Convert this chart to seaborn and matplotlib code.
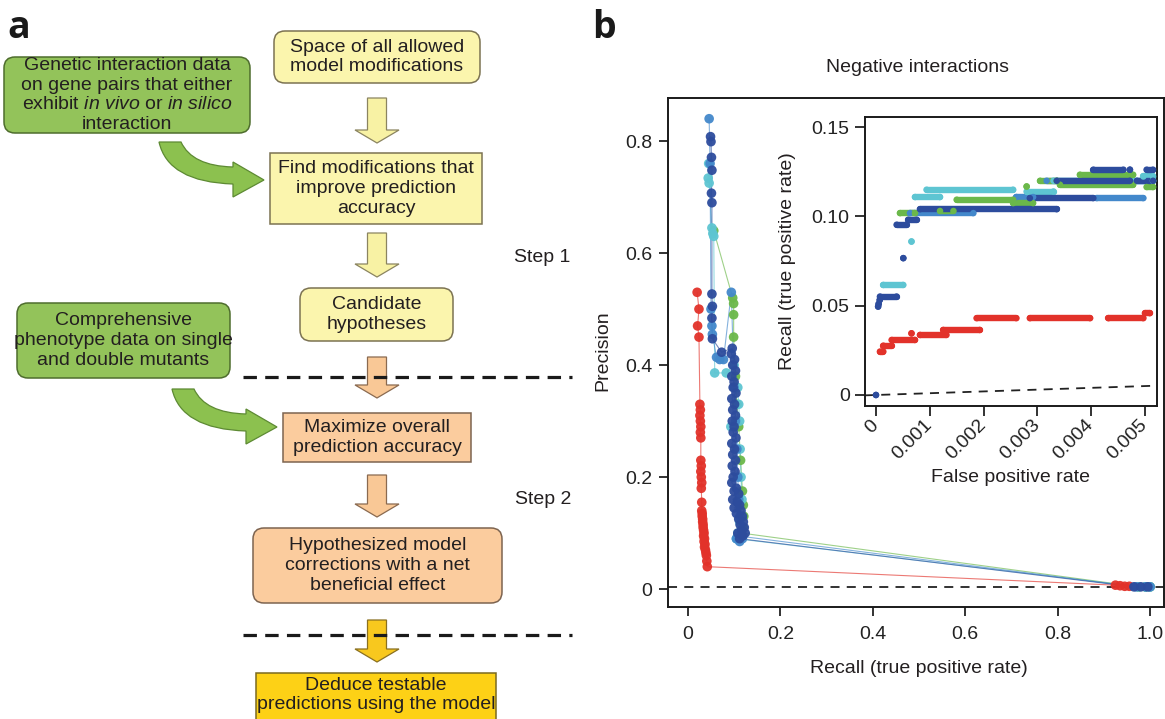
import matplotlib
matplotlib.use("Agg")
import numpy as np
import pandas as pd
import seaborn as sns
import matplotlib.pyplot as plt
from matplotlib.patches import FancyBboxPatch, Polygon, PathPatch
from matplotlib.path import Path

# ---------------- data: panel b, main precision/recall curves ----------------
red_recall = [0.020, 0.024, 0.021, 0.024,
              0.026, 0.027, 0.026, 0.027, 0.028, 0.027, 0.028,
              0.028, 0.029, 0.028, 0.029, 0.030, 0.029,
              0.030, 0.030, 0.031, 0.031, 0.032, 0.032, 0.033, 0.033, 0.034, 0.035,
              0.034, 0.036, 0.035, 0.037, 0.036, 0.038, 0.039, 0.040, 0.041, 0.042,
              0.925, 0.935, 0.945, 0.955]
red_prec = [0.53, 0.50, 0.47, 0.45,
            0.33, 0.32, 0.31, 0.30, 0.29, 0.28, 0.27,
            0.23, 0.22, 0.21, 0.20, 0.19, 0.18,
            0.155, 0.14, 0.135, 0.13, 0.125, 0.12, 0.115, 0.11, 0.105, 0.10,
            0.095, 0.09, 0.085, 0.08, 0.075, 0.07, 0.065, 0.06, 0.05, 0.04,
            0.007, 0.006, 0.005, 0.005]

green_recall = [0.056, 0.097, 0.099, 0.099, 0.099, 0.103, 0.106, 0.110, 0.114, 0.118,
                0.120, 0.121, 0.119, 0.116, 0.975, 0.990, 1.000]
green_prec = [0.64, 0.52, 0.51, 0.49, 0.45, 0.38, 0.33, 0.29, 0.23, 0.175,
              0.15, 0.13, 0.11, 0.10, 0.004, 0.004, 0.004]

cyan_recall = [0.045, 0.044, 0.046, 0.052, 0.054, 0.056, 0.058, 0.083, 0.100, 0.108,
               0.110, 0.112, 0.093, 0.113, 0.115, 0.117, 0.112, 0.108, 0.105,
               0.975, 0.990, 1.000]
cyan_prec = [0.76, 0.734, 0.725, 0.645, 0.635, 0.63, 0.386, 0.386, 0.40, 0.36,
             0.33, 0.30, 0.29, 0.25, 0.20, 0.16, 0.12, 0.10, 0.09,
             0.004, 0.004, 0.004]

steel_recall = [0.046, 0.048, 0.050, 0.052, 0.053, 0.062, 0.069, 0.077, 0.094, 0.100,
                0.103, 0.106, 0.108, 0.110, 0.113, 0.105, 0.112, 0.118, 0.108,
                0.970, 0.990, 1.000]
steel_prec = [0.84, 0.76, 0.50, 0.47, 0.455, 0.414, 0.41, 0.41, 0.53, 0.36,
              0.30, 0.25, 0.20, 0.16, 0.13, 0.09, 0.085, 0.09, 0.095,
              0.004, 0.004, 0.004]

dblue_recall = [0.049, 0.050, 0.051, 0.052, 0.051, 0.052, 0.052, 0.053, 0.052, 0.053,
                0.073, 0.096,
                0.094, 0.101, 0.097, 0.103, 0.095, 0.100, 0.098, 0.104, 0.095, 0.101,
                0.097, 0.103, 0.096, 0.100, 0.098, 0.104, 0.095, 0.101, 0.097, 0.103,
                0.096, 0.102, 0.098,
                0.095, 0.105, 0.100, 0.110, 0.097, 0.107, 0.112, 0.100, 0.115, 0.105,
                0.118, 0.110, 0.120, 0.113, 0.122, 0.116, 0.124, 0.108, 0.119, 0.112,
                0.965, 0.980, 0.995]
dblue_prec = [0.808, 0.799, 0.771, 0.748, 0.707, 0.690, 0.527, 0.505, 0.484, 0.447,
              0.423, 0.43,
              0.42, 0.41, 0.40, 0.39, 0.38, 0.37, 0.36, 0.35, 0.34, 0.33,
              0.32, 0.31, 0.30, 0.29, 0.28, 0.27, 0.26, 0.25, 0.24, 0.23,
              0.22, 0.21, 0.20,
              0.19, 0.18, 0.175, 0.17, 0.16, 0.155, 0.15, 0.145, 0.14, 0.135,
              0.13, 0.125, 0.12, 0.115, 0.11, 0.105, 0.10, 0.10, 0.095, 0.09,
              0.004, 0.004, 0.004]

baseline_precision = 0.004

# ---------------- data: inset, runs of points (start fpr, end fpr, recall) ----------------
red_in_start = [0.000074, 0.000136, 0.000291, 0.000660, 0.000818, 0.00125, 0.00187, 0.00286, 0.00432, 0.00500]
red_in_end = [0.000136, 0.000291, 0.000725, 0.000660, 0.00131, 0.00193, 0.00261, 0.00398, 0.00497, 0.00509]
red_in_level = [0.0243, 0.0276, 0.0308, 0.0345, 0.0336, 0.0364, 0.0430, 0.0430, 0.0430, 0.0458]

steel_in_start = [0.000632, 0.00261, 0.00410, 0.00317]
steel_in_end = [0.00181, 0.00292, 0.00497, 0.00515]
steel_in_level = [0.1018, 0.1108, 0.1102, 0.1199]

cyan_in_start = [0.000136, 0.00066, 0.000725, 0.00094, 0.0028, 0.0033, 0.00497]
cyan_in_end = [0.000508, 0.00066, 0.00119, 0.00255, 0.0033, 0.00515, 0.00515]
cyan_in_level = [0.0616, 0.0859, 0.1108, 0.1149, 0.1139, 0.1199, 0.1223]

green_in_start = [0.000446, 0.00119, 0.0015, 0.00255, 0.0028, 0.00305, 0.00342, 0.00379, 0.00503]
green_in_end = [0.000725, 0.00144, 0.00255, 0.00292, 0.0028, 0.00336, 0.00478, 0.00478, 0.00515]
green_in_level = [0.1018, 0.1030, 0.1093, 0.1074, 0.1167, 0.1199, 0.1177, 0.1233, 0.1164]

dblue_in_start = [0.0, 0.00004, 0.00005, 0.00007, 0.000074, 0.000508, 0.000384, 0.00060,
                  0.000818, 0.00286, 0.00336, 0.00485, 0.00404, 0.00472, 0.00503]
dblue_in_end = [0.0, 0.00004, 0.00005, 0.00007, 0.000384, 0.000508, 0.00057, 0.000756,
                0.00336, 0.00404, 0.00472, 0.00515, 0.0046, 0.00472, 0.00515]
dblue_in_level = [0.0, 0.0495, 0.0510, 0.0532, 0.0551, 0.0766, 0.0953, 0.0981,
                  0.1040, 0.1102, 0.1199, 0.1199, 0.1261, 0.1261, 0.1261]

main_xticks = [0, 0.2, 0.4, 0.6, 0.8, 1.0]
main_xticklabels = ["0", "0.2", "0.4", "0.6", "0.8", "1.0"]
main_yticks = [0, 0.2, 0.4, 0.6, 0.8]
main_yticklabels = ["0", "0.2", "0.4", "0.6", "0.8"]
inset_xticks = [0, 0.001, 0.002, 0.003, 0.004, 0.005]
inset_xticklabels = ["0", "0.001", "0.002", "0.003", "0.004", "0.005"]
inset_yticks = [0, 0.05, 0.10, 0.15]
inset_yticklabels = ["0", "0.05", "0.10", "0.15"]

colors = {"red": "#e2322a", "green": "#6bb84a", "cyan": "#5ec5d2",
          "steel": "#4388cb", "dblue": "#2d4c9d"}

# ---------------- style ----------------
sns.set_style("ticks")
plt.rcParams['font.family'] = ['Liberation Sans', 'DejaVu Sans']
plt.rcParams['mathtext.fontset'] = 'custom'
plt.rcParams['mathtext.rm'] = 'Liberation Sans'
plt.rcParams['mathtext.it'] = 'Liberation Sans:italic'
TXT = "#231f20"
FS = 14

fig = plt.figure(figsize=(11.65, 7.19), dpi=100)
W, H = 1165, 719

# ================= panel a : flow chart (pixel coordinates) =================
axa = fig.add_axes([0, 0, 580 / W, 1])
axa.set_xlim(0, 580)
axa.set_ylim(719, 0)
axa.axis("off")

yel, yel_e = "#fbf5ad", "#7c7352"
grn, grn_e = "#93c35a", "#4e6d2d"
org, org_e = "#fbcc9e", "#7d6450"
gld, gld_e = "#fdd116", "#7a6a20"


def box(x0, y0, x1, y1, fc, ec, rounded, text, cy=None):
    style = "round,pad=0,rounding_size=11" if rounded else "square,pad=0"
    axa.add_patch(FancyBboxPatch((x0, y0), x1 - x0, y1 - y0, boxstyle=style,
                                 fc=fc, ec=ec, lw=1.1, zorder=2))
    if cy is None:
        cy = (y0 + y1) / 2
    axa.text((x0 + x1) / 2, cy, text, ha="center", va="center", fontsize=FS,
             color=TXT, linespacing=1.2, zorder=3)


def down_arrow(cx, y0, y1, fc, ec):
    sw, hw, hl = 9.5, 22, 13
    pts = [(cx - sw, y0), (cx + sw, y0), (cx + sw, y1 - hl), (cx + hw, y1 - hl),
           (cx, y1), (cx - hw, y1 - hl), (cx - sw, y1 - hl)]
    axa.add_patch(Polygon(pts, closed=True, fc=fc, ec=ec, lw=0.9, zorder=2))


def curved_arrow(dx, dy):
    verts = [(159, 142), (168, 182), (233, 184), (233, 197), (264, 180), (233, 162),
             (233, 167), (192, 166), (181, 142), (159, 142)]
    codes = [Path.MOVETO, Path.CURVE3, Path.CURVE3, Path.LINETO, Path.LINETO, Path.LINETO,
             Path.LINETO, Path.CURVE3, Path.CURVE3, Path.CLOSEPOLY]
    verts = [(x + dx, y + dy) for x, y in verts]
    axa.add_patch(PathPatch(Path(verts, codes), fc="#8cc14f", ec="#5d8a33", lw=0.9, zorder=2))


box(274, 31, 480, 83, yel, yel_e, True, "Space of all allowed\nmodel modifications")
box(4, 57, 250, 133, grn, grn_e, True,
    "Genetic interaction data\non gene pairs that either\n"
    "exhibit $\\mathit{in\\ vivo}$ or $\\mathit{in\\ silico}$\ninteraction")
box(270, 153, 482, 224, yel, yel_e, False, "Find modifications that\nimprove prediction\naccuracy")
box(300, 288, 453, 341, yel, yel_e, True, "Candidate\nhypotheses")
box(17, 303, 230, 378, grn, grn_e, True, "Comprehensive\nphenotype data on single\nand double mutants")
box(283, 413, 471, 462, org, org_e, False, "Maximize overall\nprediction accuracy")
box(253, 528, 502, 603, org, org_e, True, "Hypothesized model\ncorrections with a net\nbeneficial effect")
box(256, 673, 496, 730, gld, gld_e, False, "Deduce testable\npredictions using the model", cy=695)

down_arrow(377, 98, 143, "#f8f2a4", "#8b8460")
down_arrow(377, 233, 277, "#f8f2a4", "#8b8460")
down_arrow(377, 357, 398, "#f9c896", "#8a6a50")
down_arrow(377, 475, 517, "#f9c896", "#8a6a50")
down_arrow(377, 620, 662, "#f8c81e", "#8a7020")

curved_arrow(0, 0)
curved_arrow(13, 247)

for yy in (377, 635):
    axa.plot([243, 572], [yy, yy], color="#1a1a1a", lw=2.3, ls=(0, (4.2, 2.6)), zorder=4)

axa.text(542, 258, "Step 1", ha="center", va="center", fontsize=FS, color=TXT)
axa.text(543, 500, "Step 2", ha="center", va="center", fontsize=FS, color=TXT)

fig.text(7 / W, 1 - 38 / H, "a", fontsize=27, fontweight="bold", family="Open Sans",
         color="#1a1a1a", va="baseline", ha="left")
fig.text(592 / W, 1 - 38 / H, "b", fontsize=27, fontweight="bold", family="Open Sans",
         color="#1a1a1a", va="baseline", ha="left")

# ================= panel b : main precision / recall =================
series = [("red", red_recall, red_prec), ("green", green_recall, green_prec),
          ("cyan", cyan_recall, cyan_prec), ("steel", steel_recall, steel_prec),
          ("dblue", dblue_recall, dblue_prec)]
main_df = pd.concat([pd.DataFrame({"recall": r, "precision": p, "series": name})
                     for name, r, p in series], ignore_index=True)

ax = fig.add_axes([668 / W, 1 - 607 / H, (1164 - 668) / W, (607 - 98) / H])
for name, _, _ in series:
    sub = main_df[main_df["series"] == name]
    sns.lineplot(data=sub, x="recall", y="precision", sort=False, estimator=None,
                 color=colors[name], lw=0.8, alpha=0.65, ax=ax, zorder=2)
sns.scatterplot(data=main_df, x="recall", y="precision", hue="series", palette=colors,
                s=48, edgecolor="none", alpha=0.95, legend=False, ax=ax, zorder=3)
ax.axhline(baseline_precision, color="#222222", lw=1.3, ls=(0, (5, 4)), zorder=1)

ax.set_xlim(-0.043, 1.030)
ax.set_ylim(-0.032, 0.877)
ax.set_xticks(main_xticks, main_xticklabels)
ax.set_yticks(main_yticks, main_yticklabels)
ax.tick_params(direction="out", length=6.5, width=1.3, labelsize=FS, colors="#222222", pad=5)
ax.tick_params(axis="x", pad=7)
for sp in ax.spines.values():
    sp.set_linewidth(1.4)
    sp.set_color("#1a1a1a")
ax.set_xlabel("Recall (true positive rate)", fontsize=FS, color=TXT, va="center")
ax.set_ylabel("Precision", fontsize=FS, color=TXT, va="center")
ax.xaxis.set_label_coords(0.506, -0.12)
ax.yaxis.set_label_coords(-0.131, 0.503)

fig.text(918 / W, 1 - 67 / H, "Negative interactions", fontsize=FS, color=TXT,
         ha="center", va="center")

# ================= panel b : inset =================
inset_runs = [("red", red_in_start, red_in_end, red_in_level),
              ("steel", steel_in_start, steel_in_end, steel_in_level),
              ("cyan", cyan_in_start, cyan_in_end, cyan_in_level),
              ("green", green_in_start, green_in_end, green_in_level),
              ("dblue", dblue_in_start, dblue_in_end, dblue_in_level)]
run_df = pd.concat([pd.DataFrame({"start": s, "end": e, "recall": l, "series": name})
                    for name, s, e, l in inset_runs], ignore_index=True)
ends_df = pd.concat([run_df[["start", "recall", "series"]].rename(columns={"start": "fpr"}),
                     run_df[["end", "recall", "series"]].rename(columns={"end": "fpr"})],
                    ignore_index=True)

axi = fig.add_axes([865 / W, 1 - 406 / H, 292 / W, 289 / H])
axi.set_facecolor("white")
axi.axline((0, 0), slope=1, color="#222222", lw=1.3, ls=(0, (5, 4)), zorder=1)
for name, _, _, _ in inset_runs:
    sub = run_df[run_df["series"] == name]
    axi.hlines(sub["recall"], sub["start"], sub["end"], colors=colors[name], lw=4.6,
               capstyle="round", zorder=2)
    sns.scatterplot(data=ends_df[ends_df["series"] == name], x="fpr", y="recall",
                    color=colors[name], s=22, edgecolor="none", legend=False, ax=axi, zorder=3)

axi.set_xlim(-0.000204, 0.005223)
axi.set_ylim(-0.00616, 0.1556)
axi.set_xticks(inset_xticks, inset_xticklabels)
axi.set_yticks(inset_yticks, inset_yticklabels)
axi.tick_params(direction="out", length=7, width=1.3, labelsize=FS, colors="#222222", pad=4)
plt.setp(axi.get_xticklabels(), rotation=45, ha="right", va="center", rotation_mode="anchor")
axi.tick_params(axis="x", pad=5)
for sp in axi.spines.values():
    sp.set_linewidth(1.4)
    sp.set_color("#1a1a1a")
axi.set_xlabel("False positive rate", fontsize=FS, color=TXT, va="center")
axi.set_ylabel("Recall (true positive rate)", fontsize=FS, color=TXT, va="center")
axi.xaxis.set_label_coords(0.497, -0.249)
axi.yaxis.set_label_coords(-0.264, 0.50)

fig.savefig("out.png", dpi=100)
